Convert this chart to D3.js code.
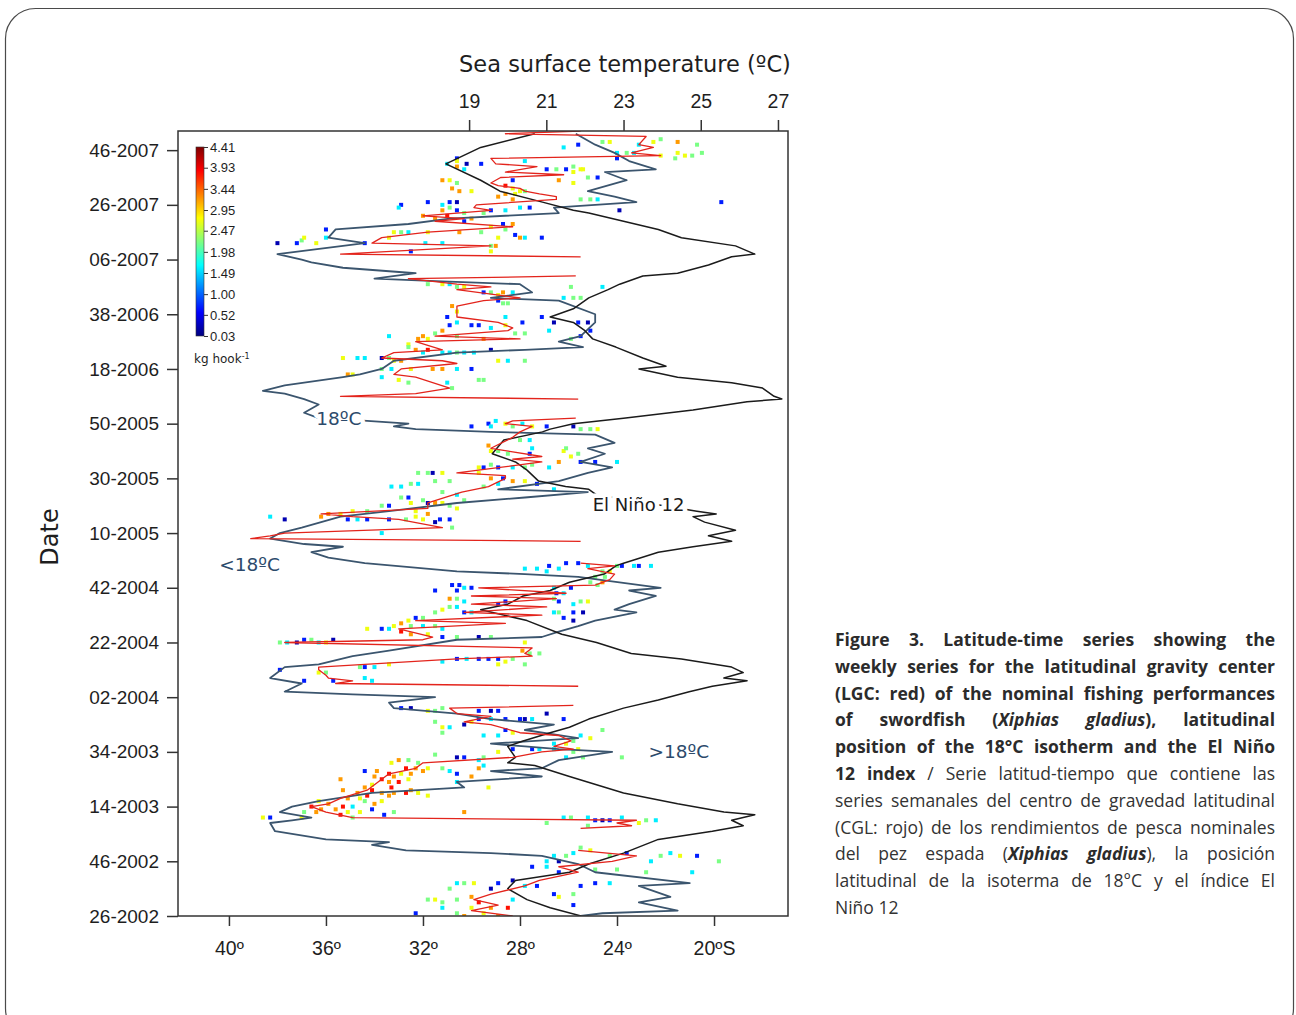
<!DOCTYPE html>
<html>
<head>
<meta charset="utf-8">
<script src="https://cdnjs.cloudflare.com/ajax/libs/d3/7.8.5/d3.min.js"></script>
<style>
  body { margin: 0; background: #fff; width: 1296px; height: 1015px; overflow: hidden; position: relative; }
  #chart { position: absolute; left: 0; top: 0; }
  #caption { position: absolute; left: 835px; top: 626px; width: 440px;
             font-family: "Open Sans", "Noto Sans", sans-serif; font-size: 17.5px; line-height: 26.8px; color: #333; }
  #caption div { text-align: justify; text-align-last: justify; white-space: nowrap; }
  #caption div.last { text-align-last: left; }
  #caption b { color: #2b2b2b; font-weight: 700; }
</style>
</head>
<body>
<div id="chart"></div>
<div id="caption"></div>
<script>
// ---- data (week index counted from week 26-2002, latitude in degrees S, SST in degC) ----
var dateTickWeeks = [0, 20, 40, 60, 80, 100, 120, 140, 160, 180, 200, 220, 240, 260, 280];
var dateTickLabels = ["26-2002", "46-2002", "14-2003", "34-2003", "02-2004", "22-2004", "42-2004",
    "10-2005", "30-2005", "50-2005", "18-2006", "38-2006", "06-2007", "26-2007", "46-2007"];
var latTicks = [40, 36, 32, 28, 24, 20];
var latTickLabels = ["40º", "36º", "32º", "28º", "24º", "20ºS"];
var sstTicks = [19, 21, 23, 25, 27];
var cpueTicks = [4.41, 3.93, 3.44, 2.95, 2.47, 1.98, 1.49, 1.00, 0.52, 0.03];

// El Niño 12 index (SST, top axis)
var nino12 = [[286,20.7],[281,19.3],[275,18.4],[269,19.3],[265,19.8],[261,20.9],[258,21.7],[257,22.1],[254,23.0],
    [251,23.9],[248,24.5],[245,25.9],[242,26.4],[241,25.8],[238,25.2],[235,24.4],[234,23.5],[231,22.9],[229,22.6],
    [226,22.1],[222,21.7],[219,21.1],[217,21.7],[214,22.0],[211,22.2],[208,22.8],[204,23.5],[201,24.1],[200,23.4],
    [197,24.4],[195,25.8],[193,26.6],[190,26.9],[189,27.1],[188,26.2],[185,24.8],[182,23.0],[180,21.7],[178,21.1],
    [177,20.9],[174,19.9],[169,19.6],[166,20.2],[163,20.5],[159,20.8],[157,21.5],[156,22.1],[154,22.3],[148,24.9],
    [147,25.4],[146,24.8],[144,25.1],[141,25.9],[139,25.2],[137,25.8],[135,24.8],[133,23.9],[129,23.0],[128,22.8],
    [125,22.5],[122,21.6],[119,21.1],[117,20.4],[114,20.0],[112,19.3],[108,20.5],[103,21.4],[100,22.3],[96,23.2],
    [94,24.5],[91,25.8],[89,26.1],[87,25.6],[86,26.2],[84,25.3],[82,24.7],[79,23.9],[76,23.0],[72,22.1],[69,21.6],
    [67,21.1],[64,20.4],[62,20.0],[58,20.2],[56,20.0],[55,20.7],[51,21.6],[45,23.0],[41,24.4],[38,25.6],[37,26.4],
    [35,25.8],[33,26.1],[31,25.3],[28,23.9],[23,23.0],[19,22.1],[16,21.6],[13,20.2],[10,20.0],[6,20.5],[3,21.1],[0,21.9]];

// latitude of the 18 degC isotherm
var iso18 = [[286,25.7],[282,24.9],[279,24.1],[276,23.5],[273,22.4],[272,24.5],[269,23.6],[265,25.2],[263,24.1],
    [261,23.2],[259,26.6],[257,26.4],[255,30.9],[253,32.6],[251,35.6],[248,35.9],[246,34.4],[244,36.2],[242,38.0],
    [240,37.0],[239,36.6],[237,35.3],[235,32.3],[233,34.0],[232,31.2],[231,28.0],[228,27.5],[226,29.2],[225,26.4],
    [220,24.9],[217,24.9],[212,25.5],[210,26.4],[208,25.4],[207,27.8],[206,30.6],[203,33.2],[200,33.7],[198,34.6],
    [197,35.3],[194,37.7],[192,38.6],[191,37.7],[189,36.9],[187,36.3],[184,36.9],[182,36.3],[181,34.3],[180,32.6],
    [179,33.2],[178,32.3],[177,29.2],[176,24.9],[173,24.1],[171,25.2],[169,24.5],[166,25.5],[164,24.2],[162,25.2],
    [159,26.4],[156,28.9],[155,25.2],[153,27.8],[151,30.6],[148,33.4],[146,35.4],[142,37.0],[140,37.9],[138,38.3],
    [136,36.9],[135,35.3],[133,36.6],[131,35.9],[129,34.4],[126,30.6],[125,27.8],[124,25.6],[122,23.9],[120,22.2],
    [119,23.5],[117,22.4],[114,23.5],[112,24.1],[111,23.2],[108,24.9],[106,25.6],[104,26.4],[102,27.1],[101,30.6],
    [97,33.4],[95,34.9],[92,36.3],[91,37.7],[87,38.3],[85,37.0],[82,37.7],[81,34.9],[80,31.5],[78,33.4],[76,33.2],
    [74,30.6],[72,29.2],[70,26.6],[68,27.8],[65,25.6],[63,29.2],[62,27.8],[61,26.4],[60,24.2],[57,26.4],[54,27.1],
    [53,29.2],[51,27.1],[49,30.6],[47,30.3],[45,34.1],[42,36.3],[40,37.4],[38,37.9],[36,36.6],[35,37.4],[34,38.3],
    [31,38.1],[28,36.0],[27,33.4],[26,34.1],[24,32.7],[23,29.2],[22,27.1],[19,25.6],[16,24.9],[12,21.0],[11,23.1],
    [7,21.8],[5,23.1],[2,21.5],[1,24.6],[0,25.5]];

// latitudinal gravity center (LGC), null = break in the series
var lgc = [[287,25.5],[286,28.6],[285,22.8],[282,23.1],[281,22.5],[279,23.4],[278,22.2],[277,29.2],[275,29.0],
    [274,27.3],[272,28.6],[271,26.2],[270,28.8],[268,29.2],[267,28.9],[266,28.0],[265,27.8],[264,27.2],[263,26.5],
    [262,26.5],[260,29.8],[259,29.9],[258,29.2],[256,32.0],[255,30.3],[254,31.5],[252,28.3],[250,31.8],[248,33.7],
    [246,34.1],[245,29.2],[242,35.4],[241,25.5],[240,null],
    [234,25.7],[233,32.6],[231,30.6],[230,29.2],[229,30.6],[226,28.0],[225,29.5],[223,30.6],[219,30.6],[217,28.9],
    [215,28.3],[214,28.5],[212,31.5],[211,28.0],[210,32.3],[207,31.2],[206,33.2],[204,33.7],[203,31.2],[202,30.6],
    [200,32.9],[198,33.2],[197,32.3],[193,30.9],[191,32.3],[190,35.4],[189,25.6],[188,null],
    [182,25.7],[181,28.3],[180,28.6],[179,27.5],[177,28.0],[175,28.3],[171,29.2],[168,27.1],[167,28.3],[166,27.1],
    [162,30.6],[161,28.6],[160,28.6],[157,29.3],[155,30.4],[151,31.8],[149,31.8],[147,36.2],[146,34.9],[145,33.0],
    [142,31.2],[140,37.7],[139,38.3],[138,39.1],[137,25.5],[136,null],
    [129,25.5],[128,24.1],[127,25.2],[125,24.1],[123,24.3],[121,24.9],[120,29.7],[118,26.1],[117,30.0],[116,26.5],
    [114,30.0],[113,26.9],[111,30.3],[110,27.1],[108,32.3],[107,28.6],[105,33.0],[102,31.6],[101,32.0],[100,37.7],
    [98,27.5],[96,27.8],[95,27.5],[94,30.6],[91,36.3],[90,36.3],[88,36.0],[87,35.9],[86,34.9],[85,35.6],[84,25.6],[83,null],
    [77,25.8],[76,30.9],[74,30.6],[73,29.2],[71,30.3],[70,29.2],[67,28.0],[66,26.4],[64,25.9],[62,26.6],[61,25.8],
    [60,27.1],[58,28.3],[56,32.0],[54,32.3],[52,33.4],[50,33.7],[46,34.3],[43,35.4],[41,35.9],[40,36.6],[38,36.0],
    [36,34.9],[35,23.2],[34,24.0],[33,23.4],[32,25.5],[31,null],
    [24,25.6],[22,23.2],[20,24.2],[18,26.4],[16,25.6],[13,27.2],[11,27.8],[8,29.2],[6,29.9],[4,28.9],[2,30.0],[0,28.3]];

// nominal catch rates: [week, latitude, kg hook-1]
var catchPts = [
    [283,24.6,2.2],[283,24.3,2.7],[284,22.2,2.2],[283,22.5,2.7],[283,21.5,3.2],[282,20.7,2.2],[282,23.1,1.6],[281,26.2,1.6],
    [282,25.6,0.7],[279,23.6,2.2],[279,24.0,1.6],[279,23.3,1.6],[279,21.5,2.7],[278,21.2,2.7],[277,21.6,2.2],[279,20.5,2.2],
    [278,20.9,2.2],[278,22.2,2.7],[277,24.0,0.7],[277,30.6,0.7],[275,31.0,1.6],[276,30.6,2.7],[275,30.2,0.25],[275,29.6,0.7],
    [274,30.6,3.2],[273,30.3,1.6],[276,27.8,1.6],[273,26.9,0.7],[273,26.5,2.2],[273,26.1,0.7],[274,25.8,2.2],[273,25.5,2.7],
    [273,25.4,2.7],[272,25.8,2.7],[270,25.2,2.2],[270,24.8,0.7],[269,26.4,3.2],[268,25.8,2.7],[269,28.3,0.7],[269,31.2,3.2],
    [269,30.9,2.7],[268,30.6,2.2],[266,30.8,3.2],[265,30.5,3.2],[265,30.0,2.7],[267,28.6,3.8],[266,28.3,2.7],[265,28.0,2.7],
    [264,28.6,3.2],[264,28.2,2.7],[265,27.8,2.2],[263,28.9,3.2],[262,28.3,3.2],[262,25.5,2.2],[262,25.1,2.2],[262,24.8,1.6],
    [261,19.7,0.7],[258,23.9,0.25],[260,32.9,0.7],[259,33.0,1.6],[261,31.8,0.7],[260,31.2,1.6],[261,30.9,0.7],[261,30.6,0.25],
    [259,30.9,2.2],[258,30.6,0.7],[257,30.3,2.2],[258,31.2,3.2],[258,29.2,0.7],[258,28.6,1.6],[259,28.0,1.6],[259,27.6,0.7],
    [257,29.5,2.2],
    [255,31.5,3.2],[256,31.0,3.8],[254,30.3,0.7],[255,30.0,3.2],[256,32.0,3.2],[253,28.7,0.7],[253,28.3,3.2],[252,29.2,2.7],
    [251,28.6,2.2],[249,28.2,0.7],[248,28.0,3.2],[248,27.8,1.6],[248,27.1,0.7],[251,36.0,0.7],[250,32.6,1.6],[250,32.9,2.2],
    [250,33.2,2.7],[248,33.4,2.7],[250,31.8,2.7],[250,29.6,2.2],[250,30.5,3.2],[247,37.0,2.2],[248,36.9,2.7],[246,38.0,0.25],
    [246,37.2,0.7],[246,36.4,2.7],[248,36.0,1.6],[246,34.4,0.7],[246,31.9,1.6],[246,31.2,1.6],[248,28.9,2.7],[245,29.2,2.2],
    [245,29.0,3.2],[243,32.5,0.7],[243,29.2,2.7],
    [231,31.8,2.2],[231,31.2,2.7],[231,30.9,1.6],[230,30.6,2.2],[230,30.3,2.7],[230,25.9,2.2],[230,24.6,1.6],[228,29.5,0.7],
    [228,29.2,2.2],[227,28.9,2.7],[228,28.7,3.2],[228,28.3,1.6],[225,28.9,0.7],[224,28.5,2.2],[224,28.7,2.2],[226,26.2,1.6],
    [226,25.8,2.2],[226,25.5,2.2],
    [223,30.8,3.2],[221,30.6,2.7],[219,28.6,1.6],[219,31.0,0.7],[217,30.6,1.6],[216,30.9,0.7],[216,30.0,0.7],[216,29.7,0.7],
    [215,29.2,1.6],[216,28.6,2.7],[217,27.9,0.7],[219,27.1,0.7],[217,26.6,0.25],[217,25.6,0.7],[217,25.2,0.25],[214,25.1,0.7],
    [214,26.8,1.6],[213,27.8,2.2],[213,28.2,2.2],[213,31.5,2.2],[214,31.2,3.2],[212,33.4,1.6],[212,32.0,3.2],[209,32.6,2.7],
    [211,32.2,3.2],[211,31.8,2.7],[211,29.5,3.2],[212,30.6,2.2],[207,29.2,0.25],[212,25.5,0.7],[211,25.9,2.2],
    [208,32.6,2.2],[207,32.3,3.2],[206,32.0,1.6],[207,31.8,3.8],[206,31.2,1.6],[206,30.9,1.6],[206,30.6,2.2],[206,30.3,1.6],
    [206,29.9,1.6],[204,35.3,2.7],[204,34.7,1.6],[204,34.4,1.6],[204,33.7,0.25],[204,33.4,2.2],[203,32.9,3.2],[203,33.2,2.7],
    [203,28.9,2.7],[203,28.5,1.6],[203,27.8,2.2],[200,33.7,2.2],[200,33.3,1.6],[200,32.5,2.7],[200,31.6,3.2],[200,31.2,3.2],
    [200,30.6,1.6],[200,30.0,0.7],[198,35.1,3.2],[198,34.9,2.7],[197,33.7,1.6],[196,33.0,2.7],[195,32.6,2.2],[196,29.7,2.2],
    [196,29.5,2.2],[195,31.0,1.6],[193,30.8,2.2],
    [179,30.0,0.7],[180,29.3,0.7],[181,29.0,1.6],[180,28.6,2.7],[179,28.3,2.2],[180,27.9,1.6],[179,26.9,0.7],[179,25.8,0.25],
    [178,25.1,2.2],[178,24.8,2.7],[179,29.2,1.6],[179,27.5,2.7],[178,25.5,2.2],[174,27.6,1.6],[174,28.0,2.2],[172,29.3,3.2],
    [170,29.2,2.7],[170,28.9,2.2],[169,28.5,2.2],[171,27.5,1.6],[169,27.6,0.7],[170,26.2,2.7],[171,26.1,2.2],[168,25.9,2.7],
    [169,25.6,2.2],[166,26.4,3.2],[166,25.5,0.7],[166,24.9,0.7],[166,24.0,1.6],[165,29.2,2.2],[164,29.7,2.7],[164,29.5,0.7],
    [164,28.9,0.7],[164,28.3,1.6],[164,27.8,2.2],[165,27.5,2.2],[164,26.8,1.6],
    [162,32.2,2.2],[162,31.8,2.2],[162,31.2,2.7],[162,31.6,0.25],[159,30.9,2.2],[162,29.7,2.7],[160,29.2,3.2],[160,28.7,0.7],
    [159,28.3,3.2],[159,27.8,2.7],[158,27.3,0.7],[156,26.6,1.6],[157,29.5,2.2],[158,28.9,1.6],[159,31.5,2.2],[157,33.3,1.6],
    [157,32.9,1.6],[158,32.5,2.2],[158,32.2,1.6],[155,31.2,2.2],[154,30.6,1.6],[153,32.9,2.2],[153,32.6,0.7],[151,32.5,2.7],
    [152,32.0,2.2],[151,31.8,0.25],[151,31.5,3.2],[151,31.2,2.7],[150,30.9,2.2],[149,30.6,2.7],[152,30.3,2.2],[150,33.7,2.2],
    [150,33.4,0.7],[148,32.3,2.7],[147,31.8,3.2],[148,34.3,2.2],[148,34.9,2.7],[147,35.4,2.7],[147,35.9,3.2],[146,36.2,3.2],
    [145,35.1,0.7],[145,34.7,1.6],[145,34.3,0.7],[145,33.4,0.7],[145,32.7,2.2],[146,32.3,2.7],[145,32.0,2.7],[145,31.3,0.7],
    [145,30.9,0.7],[144,31.5,0.25],[142,30.8,2.2],[146,38.3,1.6],[145,37.7,0.25],[140,33.7,1.6],
    [127,27.8,1.6],[127,27.3,1.6],[128,26.8,0.7],[127,26.4,1.6],[129,26.1,0.7],[129,25.6,0.7],[128,25.2,1.6],[126,24.6,2.2],
    [126,24.3,2.7],[128,24.0,2.2],[128,23.8,0.7],[128,23.3,1.6],[128,23.1,0.7],[128,22.6,1.6],[124,24.9,2.2],[124,24.5,2.2],
    [122,24.6,3.2],[122,25.1,2.2],[121,24.8,2.2],[126,26.9,1.6],
    [121,30.8,0.7],[121,30.5,0.7],[120,30.3,1.6],[120,30.0,0.7],[119,31.5,0.7],[119,30.6,0.7],[120,26.6,1.6],[120,25.9,0.7],
    [118,26.5,0.7],[118,26.2,1.6],[116,26.6,2.2],[115,26.4,0.7],[114,25.8,1.6],[115,25.5,2.2],[115,25.2,2.7],[114,28.9,0.7],
    [115,28.6,0.7],[116,30.9,3.2],[116,30.6,2.2],[115,30.3,1.6],[113,30.9,2.2],[113,30.6,1.6],[112,31.2,2.7],[111,31.5,2.2],
    [111,30.3,0.7],[111,30.0,1.6],[111,26.6,1.6],[111,26.4,2.2],[111,25.8,0.7],[111,25.4,0.25],[109,26.2,0.7],[108,25.8,0.25],
    [109,32.0,2.2],[109,32.3,0.7],[108,32.6,2.7],[107,32.9,3.2],[106,33.2,2.7],[106,32.5,2.2],[106,32.0,1.6],[106,31.5,2.2],
    [105,31.2,1.6],[105,34.3,2.7],[105,33.7,0.7],[105,33.4,1.6],[103,32.5,3.2],[104,32.9,3.8],[103,31.8,2.7],
    [100,37.9,2.2],[100,37.6,1.6],[100,37.2,0.25],[101,36.9,0.7],[101,36.6,2.2],[100,36.3,1.6],[101,35.7,0.25],[100,36.0,2.7],
    [102,31.2,0.7],[102,30.6,2.2],[102,29.7,0.25],[102,29.2,2.2],[100,27.8,2.7],[97,27.9,3.2],[96,27.6,2.2],[96,27.2,2.2],
    [94,30.6,0.7],[94,30.2,1.6],[94,29.7,0.7],[94,29.3,0.7],[94,28.9,0.7],[93,28.6,2.7],[94,28.3,2.2],[92,28.9,2.7],
    [91,34.6,2.2],[91,34.4,0.7],[92,33.4,2.7],[91,34.0,1.6],[90,37.9,0.7],[87,34.4,1.6],
    [86,36.9,0.7],[86,35.7,0.7],[86,34.1,1.6],[89,36.0,2.2],[89,36.3,2.7],[93,31.2,1.6],[92,27.8,2.2],
    [76,32.9,0.7],[76,32.5,0.25],[75,31.8,2.7],[75,31.5,2.2],[76,31.2,2.2],[75,29.7,0.7],[75,29.2,0.25],[75,28.9,0.7],
    [74,26.9,0.25],[72,26.2,0.7],[72,29.7,0.7],[72,29.2,1.6],[72,28.6,0.7],[72,28.0,0.7],[72,27.8,0.25],[72,27.5,1.6],
    [71,31.5,2.2],[69,31.2,2.7],[69,30.9,1.6],[70,30.3,0.25],[71,30.0,2.7],[67,31.2,2.2],[68,28.6,0.7],[67,28.3,2.7],
    [66,29.5,1.6],[66,28.9,1.6],[68,24.6,2.2],[66,25.5,1.6],[65,25.1,2.7],[63,26.6,1.6],[63,26.1,2.7],[64,25.8,2.2],
    [61,25.6,2.7],[60,25.8,2.2],[58,26.1,1.6],[61,26.6,1.6],[61,27.2,1.6],[61,27.5,0.7],[58,25.4,2.2],[58,23.8,2.2],
    [61,28.3,0.7],[60,28.9,2.7],[58,29.5,2.2],[57,29.7,1.6],[58,30.3,0.7],[58,30.6,0.25],
    [59,31.5,2.2],[56,32.2,2.2],[57,32.6,2.2],[57,33.0,3.2],[56,33.3,2.7],[54,32.7,3.8],[54,32.3,3.2],[53,32.0,3.2],
    [54,31.8,2.7],[54,31.2,2.2],[53,30.9,1.6],[52,30.6,0.7],[53,34.4,0.7],[53,33.9,3.2],[52,33.4,3.8],[51,34.0,3.2],
    [50,33.7,3.8],[51,33.2,3.2],[52,32.9,2.7],[52,32.5,3.2],[50,32.6,2.7],[49,33.0,3.8],[49,33.4,3.2],[47,33.3,3.8],
    [48,34.1,2.7],[47,34.4,3.2],[45,34.7,3.2],[46,34.1,3.8],[45,33.7,3.2],[45,33.2,3.2],[45,32.7,3.8],[46,32.5,3.2],
    [45,32.2,2.7],[44,31.8,2.7],[50,35.4,3.2],[46,35.3,3.2],[49,30.6,1.6],[51,30.0,3.2],[47,29.3,2.7],[54,29.7,3.2],
    [55,29.5,1.6],[43,34.6,2.7],[44,34.3,3.8],[43,35.1,3.2],[44,33.4,3.2],[42,33.7,2.7],[42,34.4,2.2],[41,34.0,3.2],
    [42,36.3,2.7],[41,35.9,3.2],[40,36.6,3.8],[39,36.2,3.2],[39,35.6,3.2],[40,35.3,3.8],[40,34.9,1.6],[38,35.1,2.7],
    [38,34.6,2.7],[39,34.1,0.7],[37,33.6,0.7],[38,33.2,2.2],[38,36.9,2.2],[38,36.4,3.2],[36,37.0,2.7],[36,38.3,0.7],
    [36,38.6,2.7],[38,30.3,3.2],[37,35.4,3.8],[36,34.9,2.2],
    [34,26.9,2.2],[36,26.2,1.6],[36,25.9,2.2],[36,25.2,1.6],[35,24.9,0.7],[35,24.6,0.25],[35,24.3,0.7],[36,23.8,1.6],
    [34,23.1,2.7],[35,22.8,2.2],[35,22.4,1.6],[33,25.2,2.2],
    [25,25.5,2.2],[24,25.1,2.7],[23,25.8,1.6],[22,26.1,2.2],[22,26.6,1.6],[20,26.9,1.6],[20,26.4,0.25],[22,24.3,2.2],
    [23,23.6,0.7],[20,22.6,1.6],[22,22.2,2.2],[23,21.8,1.6],[22,21.4,2.7],[22,20.7,0.7],[20,19.8,2.2],[16,20.9,1.6],
    [16,22.8,2.2],[18,27.5,0.7],[18,26.9,1.6],[16,26.4,0.7],[17,24.9,2.2],[17,24.0,2.2],[12,24.9,0.7],[12,24.3,1.6],
    [11,25.5,0.7],[8,26.6,0.7],[7,26.4,2.7],[8,25.8,2.2],[4,25.8,0.7],[11,27.3,0.7],[11,27.8,1.6],[13,28.3,0.25],
    [12,28.9,0.7],[10,29.2,0.25],[12,29.9,2.7],[12,30.3,2.2],[12,30.6,1.6],[10,30.9,2.2],[6,31.5,2.7],[5,31.2,2.2],
    [6,31.8,2.2],[6,30.6,2.2],[7,30.0,3.2],[5,29.7,3.8],[3,29.2,3.2],[3,30.0,2.7],[1,30.6,2.2],[0,30.3,3.2],
    [1,29.5,2.7],[0,28.9,3.2],[1,32.3,0.7],[3,31.2,1.6],[3,28.5,3.8],[6,28.3,1.6]];

// ---- layout ----
var W = 1296, H = 1015;
var plot = { left: 178, top: 131, right: 788, bottom: 916 };

var svg = d3.select("#chart").append("svg")
    .attr("width", W)
    .attr("height", H)
    .style("font-family", "'DejaVu Sans', Verdana, sans-serif");

// rounded page frame
svg.append("rect")
    .attr("x", 5.5).attr("y", 8.5)
    .attr("width", 1288).attr("height", 1030)
    .attr("rx", 30)
    .attr("fill", "none")
    .attr("stroke", "#4a4a4a")
    .attr("stroke-width", 1.2);

// scales
var yWeek = d3.scaleLinear().domain([0, 287]).range([plot.bottom, plot.top]);
var xLat = d3.scaleLinear().domain([42.1, 16.95]).range([plot.left, plot.right]);
var xSst = d3.scaleLinear().domain([11.46, 27.26]).range([plot.left, plot.right]);
var jetT = [0, 0.125, 0.375, 0.5, 0.625, 0.875, 1];
var jetColors = ["#00007f", "#0000ff", "#00ffff", "#7fff7f", "#ffff00", "#ff0000", "#7f0000"];
var color = d3.scaleLinear()
    .domain(jetT.map(function (t) { return 0.03 + t * (4.41 - 0.03); }))
    .range(jetColors)
    .clamp(true);

svg.append("clipPath").attr("id", "clip")
    .append("rect")
    .attr("x", plot.left).attr("y", plot.top)
    .attr("width", plot.right - plot.left)
    .attr("height", plot.bottom - plot.top);

var g = svg.append("g").attr("clip-path", "url(#clip)");

// catch rate squares
g.append("g").selectAll("rect")
    .data(catchPts)
    .enter()
    .append("rect")
    .attr("x", d => xLat(d[1]) - 2)
    .attr("y", d => yWeek(d[0]) - 2)
    .attr("width", 4)
    .attr("height", 4)
    .attr("fill", d => color(d[2]));

// 18 degC isotherm
var latLine = d3.line()
    .x(d => xLat(d[1]))
    .y(d => yWeek(d[0]));

g.append("path")
    .datum(iso18)
    .attr("d", latLine)
    .attr("fill", "none")
    .attr("stroke", "#3b556e")
    .attr("stroke-width", 1.8)
    .attr("stroke-linejoin", "round");

// El Nino 12
g.append("path")
    .datum(nino12)
    .attr("d", d3.line().x(d => xSst(d[1])).y(d => yWeek(d[0])))
    .attr("fill", "none")
    .attr("stroke", "#1b1b1b")
    .attr("stroke-width", 1.5)
    .attr("stroke-linejoin", "round");

// LGC
g.append("path")
    .datum(lgc)
    .attr("d", latLine.defined(d => d[1] !== null))
    .attr("fill", "none")
    .attr("stroke", "#e3241c")
    .attr("stroke-width", 1.3)
    .attr("stroke-linejoin", "round");

// frame
svg.append("rect")
    .attr("x", plot.left).attr("y", plot.top)
    .attr("width", plot.right - plot.left)
    .attr("height", plot.bottom - plot.top)
    .attr("fill", "none")
    .attr("stroke", "#333")
    .attr("stroke-width", 1.5);

// axes
function styleAxis(sel, size) {
    sel.select(".domain").remove();
    sel.selectAll(".tick line").attr("stroke", "#333").attr("stroke-width", 1.5);
    sel.selectAll(".tick text").attr("fill", "#1e1e1e").style("font-size", size + "px");
}

svg.append("g")
    .attr("transform", `translate(${plot.left},0)`)
    .call(d3.axisLeft(yWeek).tickValues(dateTickWeeks)
        .tickFormat((d, i) => dateTickLabels[i]).tickSize(11).tickPadding(8))
    .call(s => styleAxis(s, 19));

svg.append("g")
    .attr("transform", `translate(0,${plot.top})`)
    .call(d3.axisTop(xSst).tickValues(sstTicks).tickSize(11).tickPadding(12))
    .call(s => styleAxis(s, 19.5));

svg.append("g")
    .attr("transform", `translate(0,${plot.bottom})`)
    .call(d3.axisBottom(xLat).tickValues(latTicks)
        .tickFormat((d, i) => latTickLabels[i]).tickSize(10).tickPadding(15))
    .call(s => styleAxis(s, 19.5));

// axis titles
svg.append("text")
    .attr("x", 625).attr("y", 72)
    .attr("text-anchor", "middle")
    .attr("fill", "#1e1e1e")
    .style("font-size", "22.5px")
    .text("Sea surface temperature (ºC)");

svg.append("text")
    .attr("transform", "translate(58,537) rotate(-90)")
    .attr("text-anchor", "middle")
    .attr("fill", "#1e1e1e")
    .style("font-size", "24px")
    .text("Date");

// annotations (week, latitude)
var notes = [
    { text: "18ºC", w: 181.7, lat: 36.4, fill: "#2c4a6b", size: 18.5 },
    { text: "<18ºC", w: 128.5, lat: 40.4, fill: "#2c4a6b", size: 18.5 },
    { text: ">18ºC", w: 60.3, lat: 22.7, fill: "#2c4a6b", size: 18.5 },
    { text: "El Niño 12", w: 150.5, lat: 25.0, fill: "#1b1b1b", size: 18 }
];
svg.append("g").selectAll("text")
    .data(notes)
    .enter()
    .append("text")
    .attr("x", d => xLat(d.lat))
    .attr("y", d => yWeek(d.w))
    .attr("dy", "0.35em")
    .attr("fill", d => d.fill)
    .attr("stroke", "#fff")
    .attr("stroke-width", 9)
    .attr("stroke-linejoin", "round")
    .attr("paint-order", "stroke")
    .style("font-size", d => d.size + "px")
    .text(d => d.text);

// colour bar
var cb = { x: 196, w: 8, top: 147, bottom: 336 };
var grad = svg.append("defs").append("linearGradient")
    .attr("id", "jet")
    .attr("x1", 0).attr("y1", 1).attr("x2", 0).attr("y2", 0);
grad.selectAll("stop")
    .data(jetT)
    .enter()
    .append("stop")
    .attr("offset", d => d)
    .attr("stop-color", (d, i) => jetColors[i]);

svg.append("rect")
    .attr("x", cb.x).attr("y", cb.top)
    .attr("width", cb.w).attr("height", cb.bottom - cb.top)
    .attr("fill", "url(#jet)")
    .attr("stroke", "#333")
    .attr("stroke-width", 0.6);

var cbScale = d3.scaleLinear().domain([0.03, 4.41]).range([cb.bottom, cb.top]);
svg.append("g")
    .attr("transform", `translate(${cb.x + cb.w},0)`)
    .call(d3.axisRight(cbScale).tickValues(cpueTicks).tickFormat(d3.format(".2f")).tickSize(4).tickPadding(2))
    .call(s => {
        s.select(".domain").remove();
        s.selectAll(".tick line").attr("stroke", "#333").attr("stroke-width", 1);
        s.selectAll(".tick text").attr("fill", "#1e1e1e").style("font-size", "13px");
    });

var unit = svg.append("text")
    .attr("x", 194).attr("y", 363)
    .attr("fill", "#1e1e1e")
    .style("font-size", "12px")
    .text("kg hook");
unit.append("tspan")
    .attr("dy", "-0.45em")
    .style("font-size", "8px")
    .text("-1");

// caption
var captionLines = [
    "<b>Figure 3. Latitude-time series showing the</b>",
    "<b>weekly series for the latitudinal gravity center</b>",
    "<b>(LGC: red) of the nominal fishing performances</b>",
    "<b>of swordfish (<i>Xiphias gladius</i>), latitudinal</b>",
    "<b>position of the 18°C isotherm and the El Niño</b>",
    "<b>12 index</b> / Serie latitud-tiempo que contiene las",
    "series semanales del centro de gravedad latitudinal",
    "(CGL: rojo) de los rendimientos de pesca nominales",
    "del pez espada (<b><i>Xiphias gladius</i></b>), la posición",
    "latitudinal de la isoterma de 18°C y el índice El",
    "Niño 12"
];
var capWidth = 440;
d3.select("#caption").selectAll("div")
    .data(captionLines)
    .enter()
    .append("div")
    .classed("last", (d, i) => i === captionLines.length - 1)
    .html(d => "<span>" + d + "</span>")
    .each(function () {
        // squeeze lines that are naturally wider than the column
        var span = this.querySelector("span");
        var natural = span.getBoundingClientRect().width;
        if (natural > capWidth) {
            var n = span.textContent.length;
            this.style.letterSpacing = ((capWidth - natural) / n - 0.05) + "px";
        }
    });
</script>
</body>
</html>
